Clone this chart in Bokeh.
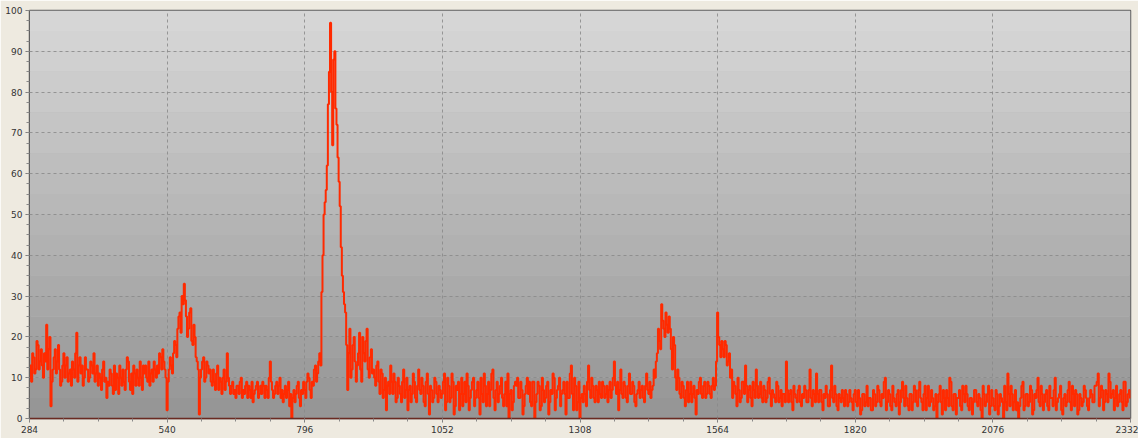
import numpy as np
from bokeh.plotting import figure
from bokeh.models import FixedTicker, BoxAnnotation, Range1d
from bokeh.embed import file_html
from bokeh.resources import INLINE

# ---- data ----
# main samples every 4 units from each segment start; "mid" samples sit 2 units later
x_ticks = [284, 540, 796, 1052, 1308, 1564, 1820, 2076, 2332]
y_ticks = [0, 10, 20, 30, 40, 50, 60, 70, 80, 90, 100]

seg_284 = [10, 9, 15, 12, 18, 14, 13, 16, 23, 17, 3, 12, 17, 14, 12, 9,
           16, 13, 9, 12, 14, 10, 21, 13, 11, 8, 15, 12, 10, 13, 16, 11,
           8, 10, 12, 9, 5, 8, 11, 6, 7, 10, 13, 8, 9, 12, 14, 7,
           6, 11, 12, 8, 10, 13, 13, 9, 8, 12, 14, 10, 11, 15, 17, 12]
mid_284 = [13, 16, 11, 19, 12, 17, 10, 14, 12, 20, 9, 15, 11, 18, 8, 13,
           10, 15, 11, 8, 12, 16, 9, 15, 13, 10, 12, 9, 14, 11, 9, 13,
           11, 7, 14, 10, 9, 12, 8, 13, 11, 6, 10, 12, 7, 15, 9, 11,
           13, 8, 10, 14, 7, 11, 10, 14, 11, 9, 12, 13, 16, 12, 14, 10]
seg_540 = [2, 12, 13, 16, 18, 22, 26, 30, 33, 25, 22, 27, 18, 20, 14, 1,
           12, 15, 10, 13, 12, 8, 9, 11, 7, 9, 10, 7, 16, 8, 8, 6,
           5, 8, 9, 5, 6, 9, 8, 5, 4, 7, 9, 6, 6, 8, 8, 5,
           14, 7, 6, 9, 8, 5, 4, 8, 7, 3, 0, 7, 6, 9, 3, 6]
mid_540 = [9, 15, 11, 19, 15, 25, 21, 28, 29, 20, 26, 19, 23, 15, 12, 10,
           14, 9, 14, 11, 9, 12, 7, 13, 10, 6, 12, 9, 10, 6, 9, 7,
           8, 6, 10, 7, 8, 5, 7, 9, 6, 8, 5, 8, 9, 5, 7, 10,
           9, 5, 8, 6, 10, 7, 6, 5, 9, 6, 5, 4, 8, 5, 7, 9]
seg_796 = [7, 9, 10, 5, 8, 13, 11, 16, 31, 50, 56, 77, 97, 67, 90, 72,
           58, 42, 31, 26, 7, 22, 12, 20, 9, 16, 12, 20, 14, 22, 10, 17,
           12, 8, 14, 6, 11, 7, 2, 9, 13, 6, 9, 5, 8, 4, 12, 7,
           2, 8, 6, 9, 4, 12, 6, 8, 3, 11, 1, 7, 5, 9, 4, 7]
mid_796 = [5, 11, 7, 9, 12, 9, 14, 13, 40, 53, 62, 85, 80, 88, 76, 64,
           52, 35, 28, 18, 16, 10, 18, 14, 13, 21, 9, 16, 19, 12, 15, 11,
           10, 13, 9, 12, 5, 10, 8, 6, 9, 11, 4, 10, 6, 9, 5, 10,
           7, 4, 11, 5, 8, 7, 10, 4, 9, 6, 8, 4, 10, 6, 8, 5]
seg_1052 = [6, 11, 4, 8, 5, 9, 3, 7, 2, 10, 6, 4, 8, 5, 9, 3,
            7, 5, 10, 4, 8, 6, 3, 11, 5, 7, 4, 8, 5, 6, 3, 0,
            7, 4, 9, 10, 5, 7, 3, 8, 6, 4, 9, 0, 6, 8, 3, 7,
            5, 9, 4, 6, 10, 5, 8, 3, 7, 6, 9, 5, 13, 2, 8, 4]
mid_1052 = [9, 2, 10, 4, 11, 1, 8, 9, 6, 3, 9, 11, 2, 7, 10, 5,
            9, 1, 6, 11, 3, 9, 7, 12, 2, 9, 6, 10, 3, 9, 11, 6,
            2, 8, 8, 5, 9, 1, 6, 10, 9, 3, 9, 4, 9, 2, 10, 4,
            8, 1, 7, 11, 2, 7, 10, 6, 9, 1, 5, 11, 6, 10, 2, 9]
seg_1308 = [0, 6, 8, 3, 13, 5, 8, 4, 7, 9, 5, 8, 6, 4, 9, 7,
            14, 6, 2, 12, 5, 8, 4, 11, 6, 8, 3, 7, 5, 8, 4, 11,
            6, 5, 8, 10, 16, 19, 28, 22, 26, 21, 22, 12, 18, 7, 10, 5,
            8, 3, 9, 6, 4, 8, 1, 6, 10, 5, 9, 6, 8, 5, 10, 8]
mid_1308 = [5, 4, 6, 9, 7, 10, 5, 8, 4, 6, 9, 5, 8, 7, 5, 10,
            8, 9, 7, 6, 9, 5, 8, 6, 9, 4, 6, 9, 7, 5, 8, 7,
            9, 7, 12, 14, 22, 17, 24, 20, 23, 25, 17, 20, 10, 12, 6, 9,
            5, 7, 4, 9, 6, 5, 7, 9, 6, 8, 5, 9, 6, 8, 7, 14]
seg_1564 = [26, 18, 19, 15, 18, 14, 10, 5, 8, 3, 7, 5, 9, 13, 4, 8,
            3, 7, 12, 5, 9, 4, 7, 5, 10, 3, 6, 4, 8, 5, 3, 6,
            14, 4, 7, 2, 6, 4, 8, 3, 5, 7, 4, 12, 3, 6, 11, 4,
            7, 2, 5, 6, 3, 13, 4, 6, 2, 5, 7, 3, 6, 4, 5, 2]
mid_1564 = [20, 15, 17, 19, 13, 16, 12, 9, 6, 10, 4, 9, 6, 8, 7, 5,
            9, 5, 8, 6, 5, 8, 4, 9, 6, 7, 5, 9, 4, 7, 6, 4,
            7, 6, 4, 8, 5, 7, 4, 6, 8, 4, 7, 5, 7, 4, 6, 7,
            4, 6, 8, 3, 7, 5, 8, 3, 6, 4, 5, 7, 3, 7, 4, 6]
seg_1820 = [7, 3, 5, 2, 6, 4, 3, 5, 2, 6, 4, 7, 3, 5, 10, 4,
            6, 2, 5, 3, 7, 4, 9, 3, 5, 2, 6, 4, 7, 3, 9, 4,
            6, 2, 8, 4, 5, 3, 0, 6, 4, 7, 2, 5, 10, 3, 6, 1,
            5, 3, 8, 4, 6, 2, 5, 4, 7, 3, 5, 0, 6, 4, 8, 3]
mid_1820 = [4, 7, 1, 6, 3, 8, 5, 2, 7, 3, 8, 4, 6, 9, 2, 7,
            3, 8, 4, 6, 1, 7, 5, 8, 3, 6, 2, 8, 4, 7, 5, 2,
            8, 5, 3, 7, 2, 6, 4, 8, 1, 5, 7, 3, 9, 2, 6, 5,
            7, 2, 6, 8, 3, 5, 1, 7, 4, 6, 2, 8, 3, 6, 1, 7]
seg_2076 = [5, 2, 6, 3, 5, 0, 4, 11, 3, 6, 4, 2, 0, 5, 9, 3,
            6, 4, 7, 2, 5, 10, 3, 6, 4, 7, 2, 5, 3, 10, 4, 6,
            2, 5, 3, 7, 4, 8, 3, 6, 2, 5, 4, 7, 3, 5, 6, 4,
            8, 11, 5, 7, 4, 6, 11, 5, 7, 5, 3, 6, 4, 9, 3, 6,
            5]
mid_2076 = [3, 7, 1, 6, 4, 8, 2, 6, 8, 2, 7, 4, 3, 8, 2, 6,
            3, 8, 1, 6, 7, 4, 8, 2, 6, 3, 8, 5, 7, 2, 5, 8,
            1, 6, 4, 9, 2, 6, 7, 1, 6, 3, 8, 5, 2, 7, 4, 8,
            9, 3, 8, 2, 7, 4, 9, 6, 2, 8, 4, 7, 2, 9, 4, 7]

segments = [(284, seg_284, mid_284), (540, seg_540, mid_540), (796, seg_796, mid_796),
            (1052, seg_1052, mid_1052), (1308, seg_1308, mid_1308), (1564, seg_1564, mid_1564),
            (1820, seg_1820, mid_1820), (2076, seg_2076, mid_2076)]

xs_all, ys_all = [], []
for start, main, mid in segments:
    for j, v in enumerate(main):
        xs_all.append(start + 4 * j)
        ys_all.append(v)
    for j, v in enumerate(mid):
        xs_all.append(start + 2 + 4 * j)
        ys_all.append(v)
order = np.argsort(xs_all, kind="stable")
xs = np.asarray(xs_all)[order]
ys = np.asarray(ys_all)[order]

# ---- figure ----
p = figure(width=1138, height=438, output_backend="svg", toolbar_location=None,
           x_range=Range1d(284, 2332), y_range=Range1d(0, 100),
           min_border_left=29, min_border_right=8, min_border_top=10, min_border_bottom=20)
p.border_fill_color = "#eeeae0"
p.background_fill_color = "#b5b5b5"
p.outline_line_color = "#5f5f5f"
p.outline_line_width = 1.5

# banded vertical gradient background
n_bands = 20
top_gray, bottom_gray = 216, 148
for i in range(n_bands):
    lo = 100.0 * i / n_bands
    hi = 100.0 * (i + 1) / n_bands
    g = int(round(bottom_gray + (top_gray - bottom_gray) * (i + 0.5) / n_bands))
    p.add_layout(BoxAnnotation(bottom=lo, top=hi, fill_color=(g, g, g), fill_alpha=1.0,
                               line_alpha=0, level="image"))

# grid
p.xgrid.ticker = FixedTicker(ticks=x_ticks)
p.ygrid.ticker = FixedTicker(ticks=y_ticks)
for g in (p.xgrid, p.ygrid):
    g.grid_line_color = "#8a8a8a"
    g.grid_line_dash = "3 3"
    g.grid_line_width = 1
    g.grid_line_alpha = 0.85

# axes
x_minor = [284 + 64 * k for k in range(33)]
y_minor = [2.5 * k for k in range(41)]
p.xaxis.ticker = FixedTicker(ticks=x_ticks, minor_ticks=x_minor)
p.yaxis.ticker = FixedTicker(ticks=y_ticks, minor_ticks=y_minor)
for ax in (p.xaxis, p.yaxis):
    ax.major_label_text_font = "DejaVu Sans"
    ax.major_label_text_font_size = "9px"
    ax.major_label_text_color = "#333333"
    ax.major_tick_line_color = "#777777"
    ax.minor_tick_line_color = "#888888"
    ax.major_tick_out = 4
    ax.major_tick_in = 0
    ax.minor_tick_out = 3
    ax.minor_tick_in = 0
    ax.major_label_standoff = 3
p.yaxis.axis_line_color = "#5f5f5f"
p.xaxis.axis_line_color = "#6a2a22"
p.xaxis.axis_line_width = 1.5

# series
p.step(xs, ys, mode="center", line_color="#ff2a00", line_width=2)

open("out.html", "w").write(file_html(p, INLINE))
